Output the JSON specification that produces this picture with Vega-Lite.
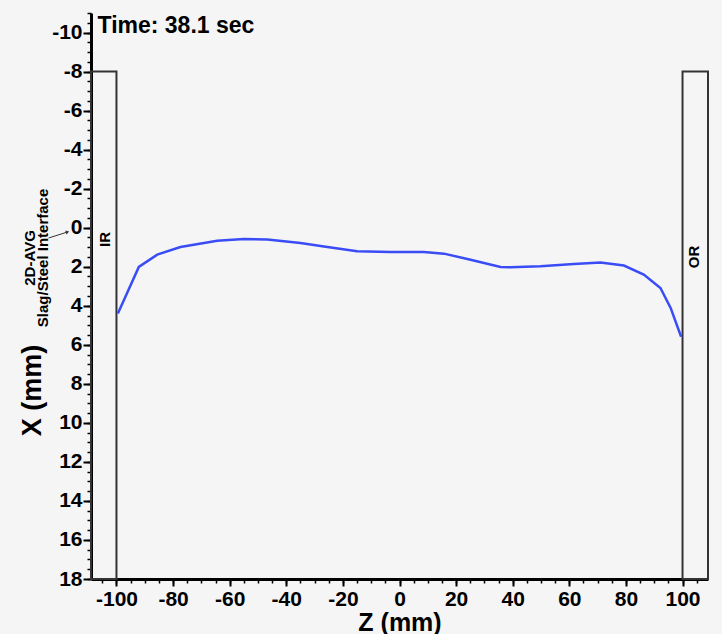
{
  "$schema": "https://vega.github.io/schema/vega-lite/v6.json",
  "width": 617,
  "height": 566,
  "autosize": {"type": "none"},
  "padding": {"left": 91, "top": 13, "right": 14, "bottom": 55},
  "background": "#f5f5f5",
  "config": {
    "view": {"stroke": null},
    "font": "Liberation Sans",
    "axis": {"grid": false, "domainColor": "black", "tickColor": "black", "labelColor": "black", "titleColor": "black"}
  },
  "datasets": {
    "walls": [
      {"wall": "IR", "z0": -109, "z1": -100, "x0": -8, "x1": 18, "lz": -104.2, "lx": 0.6},
      {"wall": "OR", "z0": 100, "z1": 109, "x0": -8, "x1": 18, "lz": 104.2, "lx": 1.5}
    ],
    "profile": [
      {"z": -99.5, "x": 4.40},
      {"z": -92.1, "x": 2.01},
      {"z": -85.6, "x": 1.38},
      {"z": -77.4, "x": 0.99},
      {"z": -64.4, "x": 0.67},
      {"z": -55.0, "x": 0.58},
      {"z": -46.7, "x": 0.61},
      {"z": -35.0, "x": 0.78},
      {"z": -26.7, "x": 0.96},
      {"z": -15.0, "x": 1.21},
      {"z": -3.2, "x": 1.24},
      {"z": 8.6, "x": 1.24},
      {"z": 15.7, "x": 1.33},
      {"z": 25.1, "x": 1.64},
      {"z": 35.7, "x": 2.01},
      {"z": 39.2, "x": 2.03},
      {"z": 49.8, "x": 1.98},
      {"z": 61.6, "x": 1.86},
      {"z": 71.0, "x": 1.78},
      {"z": 79.3, "x": 1.94},
      {"z": 86.3, "x": 2.40},
      {"z": 92.2, "x": 3.09},
      {"z": 95.8, "x": 4.11},
      {"z": 99.5, "x": 5.59}
    ],
    "notes": [
      {"text": "2D-AVG", "z": -130.7, "x": 1.55},
      {"text": "Slag/Steel Interface", "z": -126.1, "x": 1.55}
    ],
    "pointer": [
      {"z": -124, "x": 0.53, "z2": -117.3, "x2": 0.22}
    ],
    "stamp": [
      {"text": "Time: 38.1 sec", "z": -106.7, "x": -10}
    ]
  },
  "resolve": {"axis": {"x": "independent", "y": "independent"}},
  "layer": [
    {
      "data": {"name": "walls"},
      "mark": {"type": "rect", "fill": null, "fillOpacity": 0, "stroke": "#333333", "strokeWidth": 2},
      "encoding": {
        "x": {
          "field": "z0", "type": "quantitative",
          "scale": {"domain": [-109, 109], "nice": false, "zero": false},
          "axis": {
            "orient": "bottom",
            "values": [-100, -80, -60, -40, -20, 0, 20, 40, 60, 80, 100],
            "labelExpr": "toString(datum.value)",
            "labelFont": "Liberation Sans", "labelFontSize": 21, "labelFontWeight": "bold",
            "labelPadding": 2, "labelOverlap": false, "labelFlush": false, "labelBound": false,
            "tickSize": 7, "tickWidth": 2, "domainWidth": 3,
            "title": "Z (mm)", "titleFont": "Liberation Sans", "titleFontSize": 25, "titleFontWeight": "bold",
            "titleY": 51, "titleBaseline": "alphabetic", "titleAlign": "center"
          }
        },
        "x2": {"field": "z1"},
        "y": {
          "field": "x0", "type": "quantitative",
          "scale": {"domain": [-11, 18], "nice": false, "zero": false, "reverse": true},
          "axis": {
            "orient": "left",
            "values": [-10, -8, -6, -4, -2, 0, 2, 4, 6, 8, 10, 12, 14, 16, 18],
            "labelExpr": "toString(datum.value)",
            "labelFont": "Liberation Sans", "labelFontSize": 21, "labelFontWeight": "bold",
            "labelPadding": 1, "labelOverlap": false, "labelFlush": false, "labelBound": false,
            "tickSize": 8, "tickWidth": 2, "domainWidth": 3,
            "title": "X (mm)", "titleFont": "Liberation Sans", "titleFontSize": 27, "titleFontWeight": "bold",
            "titleAngle": 270, "titleX": -59, "titleY": 377, "titleAlign": "center", "titleBaseline": "middle"
          }
        },
        "y2": {"field": "x1"}
      }
    },
    {
      "data": {"name": "profile"},
      "mark": {"type": "line", "color": "#3a4cf5", "strokeWidth": 2.5},
      "encoding": {
        "x": {
          "field": "z", "type": "quantitative",
          "axis": {
            "orient": "bottom", "domain": false, "labels": false, "title": null,
            "values": [-105, -100, -95, -90, -85, -80, -75, -70, -65, -60, -55, -50, -45, -40, -35, -30, -25, -20, -15, -10, -5, 0, 5, 10, 15, 20, 25, 30, 35, 40, 45, 50, 55, 60, 65, 70, 75, 80, 85, 90, 95, 100, 105],
            "tickSize": 4, "tickWidth": 1.5
          }
        },
        "y": {
          "field": "x", "type": "quantitative",
          "axis": {
            "orient": "left", "domain": false, "labels": false, "title": null,
            "values": [-11, -10.5, -10, -9.5, -9, -8.5, -8, -7.5, -7, -6.5, -6, -5.5, -5, -4.5, -4, -3.5, -3, -2.5, -2, -1.5, -1, -0.5, 0, 0.5, 1, 1.5, 2, 2.5, 3, 3.5, 4, 4.5, 5, 5.5, 6, 6.5, 7, 7.5, 8, 8.5, 9, 9.5, 10, 10.5, 11, 11.5, 12, 12.5, 13, 13.5, 14, 14.5, 15, 15.5, 16, 16.5, 17, 17.5, 18],
            "tickSize": 4, "tickWidth": 1.5
          }
        }
      }
    },
    {
      "data": {"name": "walls"},
      "mark": {"type": "text", "angle": 270, "align": "center", "baseline": "middle", "fontSize": 15, "fontWeight": "bold", "font": "Liberation Sans", "color": "black"},
      "encoding": {
        "x": {"field": "lz", "type": "quantitative", "axis": null},
        "y": {"field": "lx", "type": "quantitative", "axis": null},
        "text": {"field": "wall"}
      }
    },
    {
      "data": {"name": "stamp"},
      "mark": {"type": "text", "align": "left", "baseline": "alphabetic", "fontSize": 23, "fontWeight": "bold", "font": "Liberation Sans", "color": "black"},
      "encoding": {
        "x": {"field": "z", "type": "quantitative", "axis": null},
        "y": {"field": "x", "type": "quantitative", "axis": null},
        "text": {"field": "text"}
      }
    },
    {
      "data": {"name": "notes"},
      "mark": {"type": "text", "angle": 270, "align": "center", "baseline": "middle", "fontSize": 15, "fontWeight": "bold", "font": "Liberation Sans", "color": "black"},
      "encoding": {
        "x": {"field": "z", "type": "quantitative", "axis": null},
        "y": {"field": "x", "type": "quantitative", "axis": null},
        "text": {"field": "text"}
      }
    },
    {
      "data": {"name": "pointer"},
      "mark": {"type": "rule", "color": "#333333", "strokeWidth": 1},
      "encoding": {
        "x": {"field": "z", "type": "quantitative", "axis": null},
        "y": {"field": "x", "type": "quantitative", "axis": null},
        "x2": {"field": "z2"},
        "y2": {"field": "x2"}
      }
    },
    {
      "data": {"name": "pointer"},
      "mark": {"type": "point", "shape": "triangle-right", "angle": 343, "size": 16, "filled": true, "color": "#333333", "opacity": 1},
      "encoding": {
        "x": {"field": "z2", "type": "quantitative", "axis": null},
        "y": {"field": "x2", "type": "quantitative", "axis": null}
      }
    }
  ]
}
